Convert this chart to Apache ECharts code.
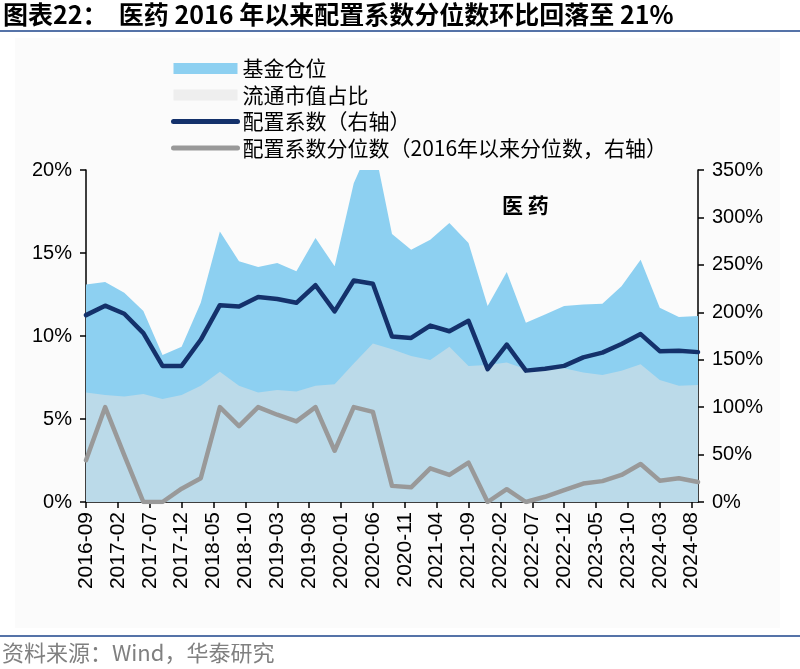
<!DOCTYPE html>
<html>
<head>
<meta charset="utf-8">
<script src="https://cdn.jsdelivr.net/npm/echarts@6/dist/echarts.min.js"></script>
<style>
html,body{margin:0;padding:0;background:#fff;}
#c{width:800px;height:669px;}
</style>
</head>
<body>
<div id="c"></div>
<script>
// Quarter-end dates of the observations
const quarters = ['2016-09','2016-12','2017-03','2017-06','2017-09','2017-12','2018-03','2018-06','2018-09','2018-12',
  '2019-03','2019-06','2019-09','2019-12','2020-03','2020-06','2020-09','2020-12','2021-03','2021-06',
  '2021-09','2021-12','2022-03','2022-06','2022-09','2022-12','2023-03','2023-06','2023-09','2023-12',
  '2024-03','2024-06','2024-09'];
// 基金仓位 (%)
const fundPosition = [13.1,13.25,12.6,11.5,8.85,9.35,12.0,16.3,14.5,14.15,14.4,13.9,15.9,14.2,19.2,21.8,
  16.15,15.2,15.8,16.8,15.6,11.8,13.85,10.8,11.3,11.8,11.9,11.95,13.0,14.6,11.7,11.15,11.2];
// 流通市值占比 (%)
const marketShare = [6.6,6.45,6.35,6.5,6.2,6.45,7.0,7.85,7.0,6.6,6.75,6.65,7.0,7.1,8.35,9.55,
  9.2,8.8,8.55,9.35,8.2,8.25,8.4,8.0,8.05,8.05,7.8,7.65,7.9,8.3,7.35,7.0,7.05];
// 配置系数 (%, 右轴)
const allocCoef = [197,207,198.5,178,143.5,143.5,171,207.5,206,216,214,210,228.5,201,233.5,230,
  174.5,173,186,180,191,140,166,138.5,140.5,143.5,152.5,157.5,166.5,177,159,159.5,158];
// 配置系数分位数 (%, 右轴)
const coefPercentile = [44,100,49.5,0,0,14,25,100,80,100,92,85,100,54,100,95,
  17,15.5,35.5,28.5,41.5,0,13.5,0,5.5,12.5,19.5,22,28.5,40,22.5,25,21];

const leftTicks = {min:0, max:20, step:5};
const rightTicks = {min:0, max:350, step:50};

// monthly category axis 2016-09 .. 2024-09
const months = [];
(function(){
  let y = 2016, m = 9;
  const [ey, em] = quarters[quarters.length-1].split('-').map(Number);
  while (y < ey || (y === ey && m <= em)) {
    months.push(y + '-' + (m < 10 ? '0' + m : '' + m));
    m++; if (m > 12) { m = 1; y++; }
  }
})();

function toMonthly(vals) {
  const arr = months.map(() => null);
  quarters.forEach((q, i) => { arr[months.indexOf(q)] = vals[i]; });
  return arr;
}

const cjk = '"Noto Sans CJK SC", "Noto Sans", sans-serif';
const latin = '"Liberation Sans", Arial, sans-serif';
const chart = echarts.init(document.getElementById('c'), null, {renderer:'canvas'});

chart.setOption({
  animation: false,
  backgroundColor: '#ffffff',
  graphic: [
    {type:'rect', left:15, top:38, shape:{width:765, height:590}, style:{fill:'#fbfbfb'}, z:-10, silent:true},
    {type:'text', left:3, top:2, style:{text:'图表22：  医药 2016 年以来配置系数分位数环比回落至 21%', font:'bold 25px ' + cjk, fill:'#000'}},
    {type:'rect', left:0, top:30, shape:{width:800, height:2}, style:{fill:'#5573a8'}},
    {type:'rect', left:0, top:635, shape:{width:800, height:2}, style:{fill:'#5573a8'}},
    {type:'text', left:2, top:642, style:{text:'资料来源：Wind，华泰研究', font:'22px ' + cjk, fill:'#808080'}},
    {type:'text', left:502, top:195, style:{text:'医 药', font:'bold 21px ' + cjk, fill:'#000'}}
  ],
  legend: {
    orient: 'vertical',
    left: 166,
    top: 53,
    itemWidth: 64,
    itemHeight: 11,
    itemGap: 5.5,
    textStyle: {fontFamily: cjk, fontSize: 21, color:'#000', lineHeight: 21},
    data: [
      {name:'基金仓位', icon:'rect'},
      {name:'流通市值占比', icon:'rect', itemStyle:{color:'#eeeeee'}},
      {name:'配置系数（右轴）', itemStyle:{opacity:0}, lineStyle:{width:5, cap:'round', color:'#14316b'}},
      {name:'配置系数分位数（2016年以来分位数，右轴）', itemStyle:{opacity:0}, lineStyle:{width:5, cap:'round', color:'#999999'}}
    ]
  },
  grid: {left:86, right:102, top:170, bottom:167, containLabel:false},
  xAxis: {
    type: 'category',
    data: months,
    boundaryGap: false,
    axisLine: {lineStyle:{color:'#000', width:1.5}},
    axisTick: {interval:4, length:6, lineStyle:{color:'#000', width:1.5}},
    axisLabel: {interval:4, rotate:90, margin:10, fontFamily:latin, fontSize:21, color:'#000'}
  },
  yAxis: [
    {
      type:'value', min:leftTicks.min, max:leftTicks.max, interval:leftTicks.step,
      axisLine:{show:true, lineStyle:{color:'#000', width:1.5}},
      axisTick:{show:true, length:6, lineStyle:{color:'#000', width:1.5}},
      splitLine:{show:false},
      axisLabel:{formatter:'{value}%', margin:14, fontFamily:latin, fontSize:20, color:'#000'}
    },
    {
      type:'value', min:rightTicks.min, max:rightTicks.max, interval:rightTicks.step,
      axisLine:{show:true, lineStyle:{color:'#000', width:1.5}},
      axisTick:{show:true, length:6, lineStyle:{color:'#000', width:1.5}},
      splitLine:{show:false},
      axisLabel:{formatter:'{value}%', margin:14, fontFamily:latin, fontSize:20, color:'#000'}
    }
  ],
  series: [
    {
      name:'基金仓位', type:'line', yAxisIndex:0, data: toMonthly(fundPosition), connectNulls:true,
      symbol:'none', color:'#8dd0f1', lineStyle:{width:0}, areaStyle:{color:'#8dd0f1', opacity:1}, z:1
    },
    {
      name:'流通市值占比', type:'line', yAxisIndex:0, data: toMonthly(marketShare), connectNulls:true,
      symbol:'none', color:'#bbdae9', lineStyle:{width:0}, areaStyle:{color:'#bbdae9', opacity:1}, z:2
    },
    {
      name:'配置系数（右轴）', type:'line', yAxisIndex:1, data: toMonthly(allocCoef), connectNulls:true,
      symbol:'none', color:'#14316b', lineStyle:{width:4.5, color:'#14316b', cap:'round', join:'round'}, z:4
    },
    {
      name:'配置系数分位数（2016年以来分位数，右轴）', type:'line', yAxisIndex:1, data: toMonthly(coefPercentile), connectNulls:true,
      symbol:'none', color:'#999999', lineStyle:{width:4.5, color:'#999999', cap:'round', join:'round'}, z:3
    }
  ]
});
</script>
</body>
</html>
